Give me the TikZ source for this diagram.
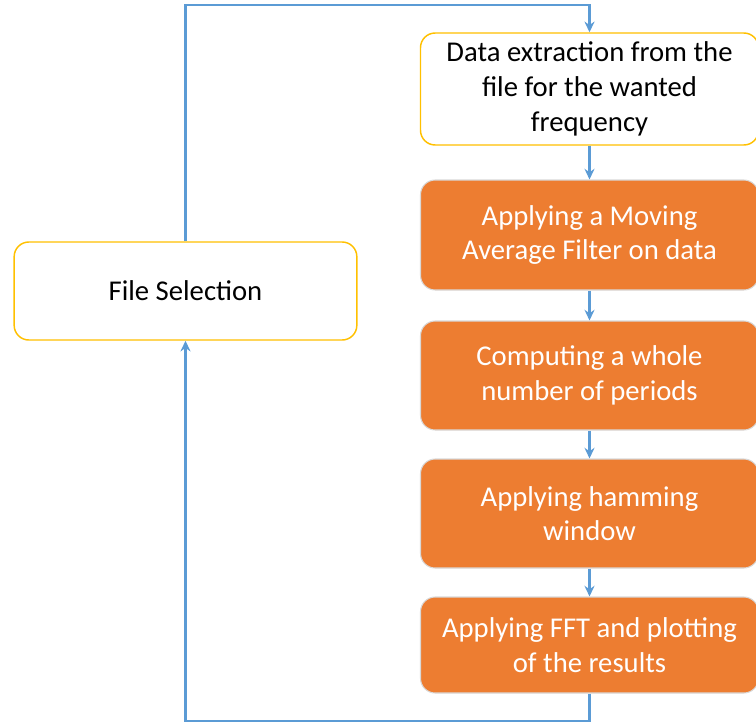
\documentclass[tikz,border=0pt]{standalone}
\usepackage{fontspec}
\setmainfont{Carlito}
\usetikzlibrary{arrows.meta}
\definecolor{boxorange}{HTML}{ED7D31}
\definecolor{boxgold}{HTML}{FFC000}
\definecolor{linkblue}{HTML}{5B9BD5}
\begin{document}
\begin{tikzpicture}[x = 0.75pt, y = -0.75pt,
  box/.style = {rectangle, rounded corners = 11pt, align = center,
    font = \fontsize{21.5}{26}\selectfont, inner sep = 0pt,
    minimum width = 253.5pt},
  plain box/.style = {box, draw = boxgold, fill = white, line width = 1.1pt},
  orange box/.style = {box, draw = white!85!black, fill = boxorange,
    text = white, line width = 0.8pt},
  link/.style = {draw = linkblue, line width = 1.6pt,
    -{Stealth[length = 8pt, width = 7.5pt]}}]
  \useasboundingbox (0, 0) rectangle (756, 724);

  \node[plain box, minimum width = 257pt, minimum height = 73.5pt] (sel)
  at (185.5, 291) {File Selection};

  \node[plain box, minimum height = 84pt] (ext) at (589.5, 89)
  {Data extraction from the\\file for the wanted\\frequency};
  \node[orange box, minimum height = 82.5pt] (avg) at (589.5, 235)
  {Applying a Moving\\Average Filter on data};
  \node[orange box, minimum height = 81.75pt] (per) at (589.5, 375.5)
  {Computing a whole\\number of periods};
  \node[orange box, minimum height = 81.75pt] (ham) at (589.5, 513.5)
  {Applying hamming\\window};
  \node[orange box, minimum height = 72pt] (fft) at (589.5, 645)
  {Applying FFT and plotting\\of the results};

  \coordinate (top) at (0, 5);
  \coordinate (bottom) at (0, 721);

  \draw[link] (ext) -- (avg);
  \draw[link] (avg) -- (per);
  \draw[link] (per) -- (ham);
  \draw[link] (ham) -- (fft);

  \draw[link] (sel.north) -- (sel.north |- top) -| (ext.north);
  \draw[link] (fft.south) -- (fft.south |- bottom) -| (sel.south);
\end{tikzpicture}
\end{document}
